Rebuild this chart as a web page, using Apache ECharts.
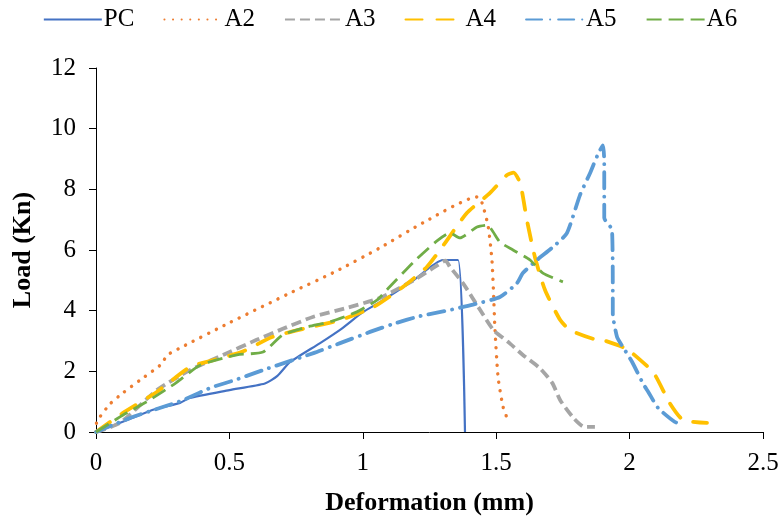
<!DOCTYPE html>
<html><head><meta charset="utf-8">
<script src="https://cdn.jsdelivr.net/npm/echarts@6/dist/echarts.min.js"></script>
<style>html,body{margin:0;padding:0;background:#fff}#c{width:780px;height:518px}</style>
</head><body><div id="c"></div>
<script>
var seriesNames = ['PC','A2','A3','A4','A5','A6'];
var xTicks = [0, 0.5, 1, 1.5, 2, 2.5];
var yTicks = [0, 2, 4, 6, 8, 10, 12];

var pcData = [[0,0],[0.127,0.43],[0.22,0.75],[0.315,0.96],[0.35,1.12],[0.5,1.38],[0.633,1.6],[0.68,1.85],[0.727,2.3],[0.84,2.93],[0.92,3.4],[1.0,3.95],[1.064,4.28],[1.19,5.0],[1.3,5.67],[1.357,5.67],[1.383,0]];
var a2Data = [[0,0],[0.003,0.33],[0.052,0.92],[0.1,1.28],[0.165,1.71],[0.24,2.2],[0.27,2.55],[0.315,2.77],[0.5,3.6],[0.727,4.58],[0.9,5.3],[1.064,6.07],[1.226,6.9],[1.43,7.75],[1.447,7.55],[1.47,6.77],[1.484,5.67],[1.49,4.58],[1.495,3.46],[1.507,1.81],[1.526,0.82],[1.548,0.3]];
var a3Data = [[0,0],[0.09,0.3],[0.228,1.38],[0.352,2.04],[0.476,2.54],[0.6,3.03],[0.7,3.4],[0.815,3.8],[0.94,4.09],[1.064,4.42],[1.19,5.0],[1.28,5.5],[1.31,5.65],[1.327,5.44],[1.376,4.9],[1.44,4.02],[1.49,3.36],[1.55,2.93],[1.6,2.54],[1.664,2.1],[1.71,1.62],[1.74,1.05],[1.79,0.46],[1.83,0.17],[1.87,0.17]];
var a4Data = [[0,0],[0.1,0.62],[0.228,1.32],[0.352,2.14],[0.44,2.37],[0.55,2.65],[0.66,3.13],[0.79,3.43],[0.915,3.69],[1.04,4.12],[1.15,4.78],[1.24,5.44],[1.308,6.23],[1.39,7.22],[1.477,7.88],[1.54,8.47],[1.565,8.55],[1.59,8.2],[1.615,6.99],[1.645,5.77],[1.683,4.68],[1.74,3.69],[1.777,3.36],[1.863,3.07],[1.9,3.03],[1.975,2.8],[2.01,2.6],[2.09,1.95],[2.15,0.96],[2.2,0.4],[2.29,0.3]];
var a5Data = [[0,0],[0.127,0.46],[0.214,0.72],[0.326,1.05],[0.427,1.45],[0.52,1.71],[0.626,2.04],[0.815,2.6],[0.915,2.93],[1.027,3.3],[1.113,3.56],[1.214,3.82],[1.315,4.0],[1.413,4.2],[1.514,4.45],[1.578,4.91],[1.6,5.24],[1.653,5.67],[1.713,6.1],[1.765,6.56],[1.814,7.81],[1.852,8.54],[1.88,9.13],[1.9,9.45],[1.905,8.87],[1.905,7.06],[1.934,6.66],[1.937,4.58],[1.937,3.92],[1.953,3.13],[1.97,2.87],[2.01,2.3],[2.05,1.6],[2.07,1.32],[2.107,0.79],[2.17,0.33],[2.2,0.26]];
var a6Data = [[0,0],[0.1,0.55],[0.2,1.05],[0.3,1.62],[0.39,2.2],[0.528,2.54],[0.626,2.64],[0.7,3.2],[0.79,3.46],[0.877,3.63],[0.978,3.96],[1.053,4.35],[1.1,4.78],[1.19,5.6],[1.278,6.3],[1.327,6.56],[1.364,6.4],[1.428,6.76],[1.466,6.82],[1.514,6.26],[1.563,6.0],[1.627,5.67],[1.675,5.24],[1.75,4.95]];

var allData = [pcData, a2Data, a3Data, a4Data, a5Data, a6Data];
var colors = ['#4472C4','#ED7D31','#A5A5A5','#FFC000','#5B9BD5','#70AD47'];
var styles = [
  {type:'solid', width:2.2, cap:'butt'},
  {type:[0.1,8.5], width:3.4, cap:'round'},
  {type:[10,5], width:3.8, cap:'butt'},
  {type:[17,14], width:3.8, cap:'round'},
  {type:[16,8,0.1,8], width:3.8, cap:'round'},
  {type:[15,7], width:2.8, cap:'butt'}
];
var font = '"Liberation Serif","Times New Roman",serif';

var chart = echarts.init(document.getElementById('c'), null, {renderer:'canvas'});
chart.setOption({
  animation:false,
  backgroundColor:'#fff',
  legend:{
    top:2, left:'center', itemWidth:58, itemHeight:14, itemGap:29,
    data: seriesNames,
    itemStyle:{opacity:0},
    textStyle:{fontFamily:font, fontSize:25, color:'#000', padding:[0,0,0,-3]}
  },
  grid:{left:96, right:17, top:68, bottom:86, containLabel:false, outerBoundsMode:'none'},
  xAxis:{
    type:'value', min:0, max:2.5, interval:0.5,
    name:'Deformation (mm)', nameLocation:'middle', nameGap:58,
    nameTextStyle:{fontFamily:font, fontSize:26, fontWeight:'bold', color:'#000'},
    axisLine:{show:true, lineStyle:{color:'#000', width:1}},
    axisTick:{show:true, inside:false, length:7, lineStyle:{color:'#000'}},
    axisLabel:{fontFamily:font, fontSize:25, color:'#000', margin:19,
      formatter:function(v){ return xTicks.indexOf(v) >= 0 ? String(v) : ''; }},
    splitLine:{show:false}
  },
  yAxis:{
    type:'value', min:0, max:12, interval:2,
    name:'Load (Kn)', nameLocation:'middle', nameGap:60, nameRotate:90,
    nameTextStyle:{fontFamily:font, fontSize:26, fontWeight:'bold', color:'#000'},
    axisLine:{show:true, lineStyle:{color:'#000', width:1}},
    axisTick:{show:true, inside:false, length:7, lineStyle:{color:'#000'}},
    axisLabel:{fontFamily:font, fontSize:25, color:'#000', margin:20,
      formatter:function(v){ return yTicks.indexOf(v) >= 0 ? String(v) : ''; }},
    splitLine:{show:false}
  },
  series: seriesNames.map(function(n,i){
    return {
      name:n, type:'line', data:allData[i], showSymbol:false, symbol:'none',
      smooth:0.2, color:colors[i],
      lineStyle:{color:colors[i], width:styles[i].width, type:styles[i].type, cap:styles[i].cap, join:'round'}
    };
  })
});
</script></body></html>
